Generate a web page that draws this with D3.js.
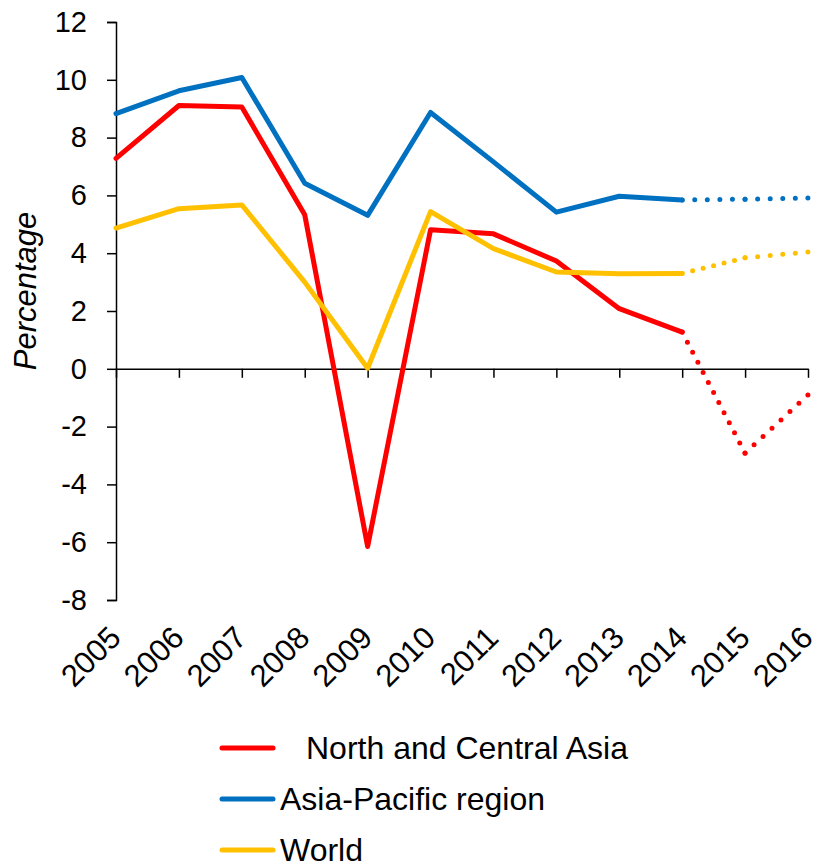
<!DOCTYPE html>
<meta charset="utf-8">
<script src="https://d3js.org/d3.v7.min.js"></script>
<style>
  body { margin: 0; background: #fff; }
  text { font-family: "Liberation Sans", Arial, sans-serif; fill: #000; }
</style>
<div id="chart"></div>
<script>

    // data (2015-2016 are projections, drawn dotted)
    var years = ["2005","2006","2007","2008","2009","2010","2011","2012","2013","2014","2015","2016"];
    var northCentralAsia = [7.28, 9.11, 9.06, 5.33, -6.15, 4.81, 4.67, 3.73, 2.08, 1.27, -2.92, -0.9];
    var asiaPacific = [8.83, 9.62, 10.08, 6.42, 5.31, 8.87, 7.16, 5.42, 5.97, 5.84, 5.87, 5.91];
    var world = [4.87, 5.54, 5.67, 3.0, 0.02, 5.44, 4.16, 3.35, 3.29, 3.30, 3.84, 4.04];
    var yTicks = [-8, -6, -4, -2, 0, 2, 4, 6, 8, 10, 12];
    var lastActual = "2014";

    var series = [
      {name: "North and Central Asia", values: northCentralAsia, color: "#ff0000"},
      {name: "Asia-Pacific region", values: asiaPacific, color: "#0070c0"},
      {name: "World", values: world, color: "#ffc000"}
    ];

    var margin = {top: 22, right: 9, bottom: 265, left: 116},
        width = 817 - margin.left - margin.right,
        height = 865 - margin.top - margin.bottom;

    var svg = d3.select("#chart")
      .append("svg")
        .attr("width", 817)
        .attr("height", 865)
      .append("g")
        .attr("transform", "translate(" + margin.left + "," + margin.top + ")");

    var x = d3.scalePoint()
      .domain(years)
      .range([0, width]);

    var y = d3.scaleLinear()
      .domain([-8, 12])
      .range([height, 0]);

    // y axis (plain hyphen for negatives, like the original)
    var yAxis = svg.append("g")
      .call(d3.axisLeft(y).tickValues(yTicks).tickSize(9).tickPadding(20)
        .tickFormat(function(d) { return String(d); }));
    yAxis.selectAll("text").style("font-size", "29px");
    yAxis.selectAll("line, path").attr("stroke", "#000").attr("stroke-width", 1.5);

    // x axis on the zero line, labels at the bottom
    var xAxis = svg.append("g")
      .attr("transform", "translate(0," + y(0) + ")")
      .call(d3.axisBottom(x).tickSize(9).tickSizeOuter(0).tickFormat(""));
    xAxis.selectAll("line, path").attr("stroke", "#000").attr("stroke-width", 1.5);

    svg.append("g")
      .selectAll("text")
      .data(years)
      .enter()
      .append("text")
        .attr("transform", function(d) { return "translate(" + (x(d) - 1) + "," + (height + 32) + ") rotate(-45)"; })
        .attr("text-anchor", "end")
        .attr("dy", "0.35em")
        .style("font-size", "31px")
        .text(function(d) { return d; });

    svg.append("text")
      .attr("transform", "translate(" + (36 - margin.left) + "," + (291 - margin.top) + ") rotate(-90)")
      .attr("text-anchor", "middle")
      .style("font-size", "31px")
      .style("font-style", "italic")
      .text("Percentage");

    // lines
    var line = d3.line()
      .x(function(d) { return x(d.year); })
      .y(function(d) { return y(d.value); });

    var cut = years.indexOf(lastActual);

    series.forEach(function(s) {
      var pts = years.map(function(yr, i) { return {year: yr, value: s.values[i]}; });

      svg.append("path")
        .datum(pts.slice(0, cut + 1))
        .attr("fill", "none")
        .attr("stroke", s.color)
        .attr("stroke-width", 5)
        .attr("stroke-linejoin", "round")
        .attr("stroke-linecap", "round")
        .attr("d", line);

      // each projected segment dotted on its own, a dot at both ends
      for (var i = cut; i < years.length - 1; i++) {
        var p0 = pts[i], p1 = pts[i + 1];
        var len = Math.hypot(x(p1.year) - x(p0.year), y(p1.value) - y(p0.value));
        var gap = len / Math.round(len / 11.7) - 0.02;
        svg.append("path")
          .datum([p0, p1])
          .attr("fill", "none")
          .attr("stroke", s.color)
          .attr("stroke-width", 5)
          .attr("stroke-linecap", "round")
          .attr("stroke-dasharray", "0 " + gap)
          .attr("stroke-dashoffset", i == cut ? -gap : 0)
          .attr("d", line);
      }
    });

    // legend
    var legend = svg.append("g")
      .attr("transform", "translate(" + (-margin.left) + "," + (-margin.top) + ")");

    var legendX = [306, 280, 280];
    series.forEach(function(s, i) {
      var ly = 748 + i * 51;
      legend.append("line")
        .attr("x1", 222).attr("x2", 273)
        .attr("y1", ly).attr("y2", ly)
        .attr("stroke", s.color)
        .attr("stroke-width", 5)
        .attr("stroke-linecap", "round");
      legend.append("text")
        .attr("x", legendX[i])
        .attr("y", ly)
        .attr("dy", "0.35em")
        .style("font-size", "32px")
        .text(s.name);
    });

</script>
